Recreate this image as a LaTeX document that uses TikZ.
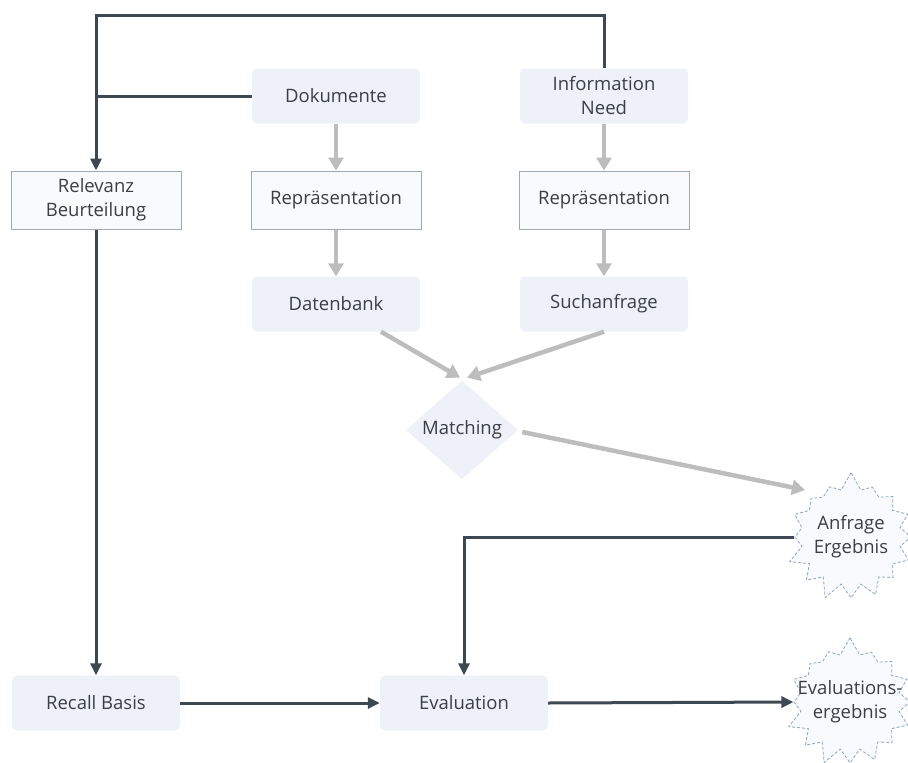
\documentclass[tikz,border=0pt]{standalone}
\usepackage{fontspec}
\setmainfont{Open Sans}
\usetikzlibrary{arrows.meta,shapes.geometric,shapes.symbols,calc}
\definecolor{boxfill}{HTML}{EEF1F7}
\definecolor{outfill}{HTML}{F8FAFC}
\definecolor{outline}{HTML}{A0A8B0}
\definecolor{darkline}{HTML}{3D4853}
\definecolor{grayarrow}{HTML}{BDBDBD}
\definecolor{txt}{HTML}{3A3F44}
\definecolor{stardash}{HTML}{8FA6BF}
\definecolor{starfill}{HTML}{F8FAFD}
\begin{document}
\begin{tikzpicture}[x=1pt,y=-1pt, font=\fontsize{18.5}{24}\selectfont, text=txt,
 filledbox/.style={rectangle, rounded corners=5pt, fill=boxfill, minimum width=168pt, minimum height=55pt, align=center, inner sep=2pt},
 outlinedbox/.style={rectangle, draw=outline, line width=1pt, fill=outfill, minimum width=170pt, minimum height=58pt, align=center, inner sep=2pt},
 burst/.style={starburst, starburst points=16, starburst point height=18pt, random starburst=7, draw=stardash, line width=0.8pt, dash pattern=on 3pt off 2pt, fill=starfill, minimum width=136pt, minimum height=132pt, align=center, inner xsep=-30pt, inner ysep=-12pt},
 decision/.style={diamond, fill=boxfill, minimum width=112pt, minimum height=86pt, inner sep=0pt, align=center},
 gflow/.style={draw=grayarrow, line width=4.5pt, -{Triangle[width=15pt,length=13pt]}},
 dflow/.style={draw=darkline, line width=3pt, -{Triangle[width=11pt,length=12pt]}},
 dline/.style={draw=darkline, line width=3pt},
]
\useasboundingbox (0,0) rectangle (908,763);
\fill[white] (0,0) rectangle (908,763);

\node[filledbox] (D) at (336,96) {Dokumente};
\node[filledbox] (I) at (604,96) {Information\\Need};
\node[outlinedbox] (Rel) at (96,200) {Relevanz\\Beurteilung};
\node[outlinedbox] (Rp1) at (336,200) {Repräsentation};
\node[outlinedbox] (Rp2) at (604,200) {Repräsentation};
\node[filledbox] (DB) at (336,304) {Datenbank};
\node[filledbox] (S) at (604,304) {Suchanfrage};
\node[decision] (M) at (462,430) {Matching};
\node[burst] (A) at (851,537) {Anfrage\\Ergebnis};
\node[burst] (ER) at (850,702) {Evaluations-\\ergebnis};
\node[filledbox] (Rec) at (96,703) {Recall Basis};
\node[filledbox] (E) at (464,703) {Evaluation};
\coordinate (Ain) at (805,490);

% gray flows
\draw[gflow] (D) -- (Rp1);
\draw[gflow] (Rp1) -- (DB);
\draw[gflow] (I) -- (Rp2);
\draw[gflow] (Rp2) -- (S);
\draw[gflow] ([xshift=45pt]DB.south) -- ([xshift=-2pt,yshift=3pt]M.north);
\draw[gflow] (S.south) -- ([xshift=5pt,yshift=3pt]M.north);
\draw[gflow] ([xshift=4pt,yshift=-2pt]M.east) -- (Ain);

% dark flows
\draw[dflow] (I.north) -- ++(0,-53) -| (Rel.north);
\draw[dline] (D.west) -- (D.west -| Rel.north);
\draw[dflow] (Rel.south) -- (Rec.north);
\draw[dflow] (Rec.east) -- (E.west);
\draw[dflow] (E.east) -- (ER.west);
\draw[dflow] (A.west) -| (E.north);
\end{tikzpicture}
\end{document}
